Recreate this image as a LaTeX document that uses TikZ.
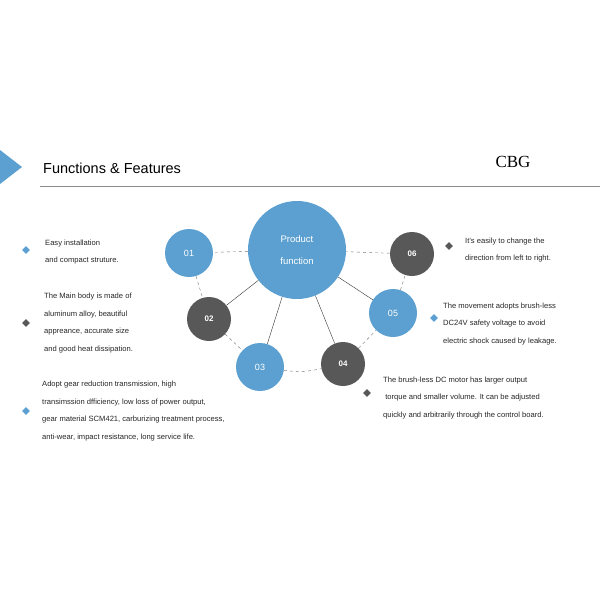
\documentclass[tikz,border=0pt]{standalone}
\usepackage{fontspec}
\setmainfont{Liberation Sans}
\usetikzlibrary{shapes.geometric}
\definecolor{cblue}{RGB}{91,160,208}
\definecolor{cdark}{RGB}{88,88,88}
\tikzset{
  font={\fontsize{7.6pt}{17.8pt}\selectfont},
  blue/.style = {circle, fill=cblue, text=white, inner sep=0pt},
  dark/.style = {circle, fill=cdark, text=white, inner sep=0pt, font={\fontsize{8pt}{10pt}\selectfont\bfseries}},
  txt/.style = {anchor=west, align=left, text=black!85, inner sep=0pt},
  bullet/.style = {diamond, minimum size=8pt, inner sep=0pt},
  ring/.style = {dashed, draw=black!55, thin},
  spoke/.style = {draw=black!80, thin}}

\begin{document}
\begin{tikzpicture}[x=1pt, y=-1pt]
\useasboundingbox (0,0) rectangle (600,600);
\fill[cblue] (0,150) -- (22,167) -- (0,184) -- cycle;
\draw[black!45, thin] (40,186) -- (600,186);
\node[anchor=west, inner sep=0pt, font={\fontsize{14.5pt}{16pt}\selectfont}] (title) at (43,168) {Functions \& Features};
\node[inner sep=0pt, font={\fontsize{17pt}{18pt}\fontspec{Liberation Serif}}] (logo) at (513,162) {CBG};

\node[blue, minimum size=98pt, font={\fontsize{9.5pt}{22pt}\selectfont}, align=center] (c) at (297,250) {Product\\function};
\node[blue, minimum size=48pt, font={\fontsize{9pt}{10pt}\selectfont}] (1) at (189,253) {01};
\node[dark, minimum size=44pt] (2) at (209,319) {02};
\node[blue, minimum size=48pt, font={\fontsize{9pt}{10pt}\selectfont}] (3) at (260,367) {03};
\node[dark, minimum size=44pt] (4) at (343,364) {04};
\node[blue, minimum size=48pt, font={\fontsize{9pt}{10pt}\selectfont}] (5) at (393,313) {05};
\node[dark, minimum size=44pt] (6) at (412,254) {06};

% spokes
\foreach \n in {2,3,4,5} \draw[spoke] (c) -- (\n);
% ring
\draw[ring] (c) -- (1);
\draw[ring] (1) -- (2);
\draw[ring] (2) -- (3);
\draw[ring] (3) to[bend right=10] (4);
\draw[ring] (4) -- (5);
\draw[ring] (5) -- (6);
\draw[ring] (6) -- (c);

% markers
\node[bullet, fill=cblue] (m1) at (26,250) {};
\node[bullet, fill=cdark] (m2) at (26,323) {};
\node[bullet, fill=cblue] (m3) at (26,411) {};
\node[bullet, fill=cdark] (m6) at (449,246) {};
\node[bullet, fill=cblue] (m5) at (434,318) {};
\node[bullet, fill=cdark] (m4) at (367,393) {};

% texts
\node[txt] (t1) at (45,252) {Easy installation\\and compact struture.};
\node[txt] (t2) at (44,323) {The Main body is made of\\aluminum alloy, beautiful\\appreance, accurate size\\and good heat dissipation.};
\node[txt] (t3) at (42,411) {Adopt gear reduction transmission, high\\transimssion dfficiency, low loss of power output,\\gear material SCM421, carburizing treatment process,\\anti-wear, impact resistance, long service life.};
\node[txt] (t6) at (465,250) {It's easily to change the\\direction from left to right.};
\node[txt] (t5) at (443,324) {The movement adopts brush-less\\DC24V safety voltage to avoid\\electric shock caused by leakage.};
\node[txt] (t4) at (383,398) {The brush-less DC motor has larger output\\\ torque and smaller volume. It can be adjusted\\quickly and arbitrarily through the control board.};
\end{tikzpicture}
\end{document}
